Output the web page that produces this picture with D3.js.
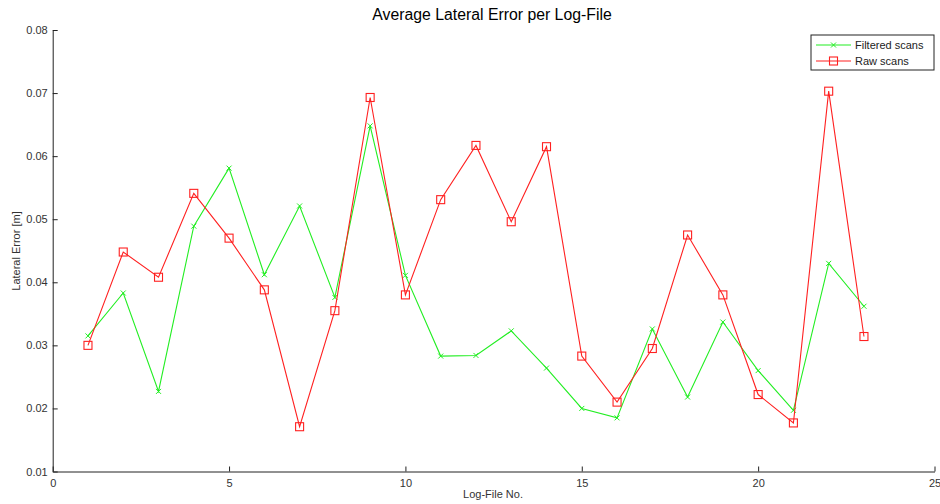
<!DOCTYPE html>
<html>
<head>
<meta charset="utf-8">
<script src="https://cdn.jsdelivr.net/npm/d3@7"></script>
<style>
  html, body { margin: 0; padding: 0; background: #fff; }
  svg { display: block; font-family: "Liberation Sans", Arial, sans-serif; }
</style>
</head>
<body>
<svg id="chart" width="940" height="504"></svg>
<script>
// Log-file numbers and the average lateral error for each run
const logFiles = d3.range(1, 24);
const filteredScans = [0.0315, 0.0383, 0.0227, 0.0489, 0.0581, 0.0412, 0.0521, 0.0376, 0.0648, 0.0411,
  0.0283, 0.0284, 0.0323, 0.0264, 0.0200, 0.0185, 0.0326, 0.0218, 0.0337, 0.0260, 0.0197, 0.0430, 0.0362];
const rawScans = [0.0300, 0.0448, 0.0408, 0.0541, 0.0470, 0.0388, 0.0171, 0.0355, 0.0693, 0.0380,
  0.0531, 0.0617, 0.0496, 0.0615, 0.0283, 0.0210, 0.0295, 0.0475, 0.0380, 0.0222, 0.0177, 0.0703, 0.0314];
const xTicks = [0, 5, 10, 15, 20, 25];
const yTicks = [0.01, 0.02, 0.03, 0.04, 0.05, 0.06, 0.07, 0.08];

const svg = d3.select("#chart");
const plotLeft = 52.7, plotRight = 934.5, plotTop = 30, plotBottom = 471.5;

const x = d3.scaleLinear().domain([0, 25]).range([plotLeft, plotRight]);
const y = d3.scaleLinear().domain([0.01, 0.08]).range([plotBottom, plotTop]);

// Axes with inward ticks
const xAxis = d3.axisBottom(x).tickValues(xTicks).tickSizeInner(-5).tickSizeOuter(0).tickPadding(8)
  .tickFormat(d3.format("d"));
const yAxis = d3.axisLeft(y).tickValues(yTicks).tickSizeInner(-5).tickSizeOuter(0).tickPadding(5)
  .tickFormat(d3.format(".2f"));

const gx = svg.append("g").attr("transform", `translate(0,${plotBottom})`).call(xAxis);
const gy = svg.append("g").attr("transform", `translate(${plotLeft},0)`).call(yAxis);
[gx, gy].forEach(g => {
  g.selectAll("path.domain").attr("stroke", "#222").attr("stroke-width", 1);
  g.selectAll(".tick line").attr("stroke", "#222");
  g.selectAll(".tick text").attr("fill", "#333").style("font-size", "11px")
    .style("font-family", "\"Liberation Sans\", Arial, sans-serif");
});

// Title and axis labels
svg.append("text").attr("x", 492).attr("y", 20).attr("text-anchor", "middle")
  .style("font-size", "15.8px").attr("fill", "#000").text("Average Lateral Error per Log-File");
svg.append("text").attr("x", 493).attr("y", 498).attr("text-anchor", "middle")
  .style("font-size", "11px").attr("fill", "#333").text("Log-File No.");
svg.append("text").attr("transform", "translate(20,251) rotate(-90)").attr("text-anchor", "middle")
  .style("font-size", "11px").attr("fill", "#333").text("Lateral Error [m]");

const line = d3.line().x((d, i) => x(logFiles[i])).y(d => y(d));

const green = "#22ee22", red = "#ff2020";

// Filtered scans: green line with x markers
svg.append("path").datum(filteredScans).attr("d", line)
  .attr("fill", "none").attr("stroke", green).attr("stroke-width", 1.1);
const xMark = (g, cx, cy, s) => g.append("path")
  .attr("d", `M${cx - s},${cy - s}L${cx + s},${cy + s}M${cx - s},${cy + s}L${cx + s},${cy - s}`)
  .attr("stroke", green).attr("stroke-width", 1);
const gf = svg.append("g");
filteredScans.forEach((d, i) => xMark(gf, x(logFiles[i]), y(d), 2.5));

// Raw scans: red line with square markers
svg.append("path").datum(rawScans).attr("d", line)
  .attr("fill", "none").attr("stroke", red).attr("stroke-width", 1.1);
svg.append("g").selectAll("rect").data(rawScans).join("rect")
  .attr("x", (d, i) => x(logFiles[i]) - 4).attr("y", d => y(d) - 4)
  .attr("width", 8).attr("height", 8)
  .attr("fill", "none").attr("stroke", red).attr("stroke-width", 1.1);

// Legend
const lg = svg.append("g").attr("transform", "translate(811,35)");
lg.append("rect").attr("x", 0).attr("y", 0).attr("width", 123).attr("height", 35)
  .attr("fill", "#fff").attr("stroke", "#222").attr("stroke-width", 1);
lg.append("line").attr("x1", 5).attr("x2", 40).attr("y1", 10).attr("y2", 10)
  .attr("stroke", green).attr("stroke-width", 1.1);
xMark(lg, 22.5, 10, 2.5);
lg.append("text").attr("x", 44).attr("y", 14).style("font-size", "11px").attr("fill", "#222").text("Filtered scans");
lg.append("line").attr("x1", 5).attr("x2", 40).attr("y1", 26).attr("y2", 26)
  .attr("stroke", red).attr("stroke-width", 1.1);
lg.append("rect").attr("x", 18.5).attr("y", 22).attr("width", 8).attr("height", 8)
  .attr("fill", "none").attr("stroke", red).attr("stroke-width", 1.1);
lg.append("text").attr("x", 44).attr("y", 30).style("font-size", "11px").attr("fill", "#222").text("Raw scans");
</script>
</body>
</html>
